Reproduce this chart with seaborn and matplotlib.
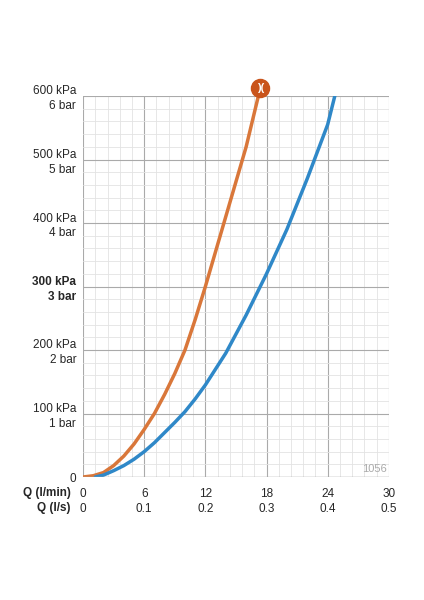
import numpy as np
import matplotlib
matplotlib.use("Agg")
import matplotlib.pyplot as plt
import seaborn as sns

# flow (l/min) vs pressure (kPa)
q_orange = [0, 1, 2, 3, 4, 5, 6, 7, 8, 9, 10, 11, 12, 13, 14, 15, 16, 17.2]
p_orange = [0, 2, 7, 18, 33, 52, 75, 100, 130, 163, 200, 248, 300, 355, 410, 465, 520, 600]
q_blue = [1.2, 2, 3, 4, 5, 6, 7, 8, 9, 10, 11, 12, 13, 14, 16, 18, 20, 22, 24, 24.7]
p_blue = [0, 3, 10, 18, 28, 40, 54, 70, 86, 103, 123, 145, 170, 195, 255, 320, 390, 470, 555, 600]

y_ticks = [0, 100, 200, 300, 400, 500, 600]
y_labels = ["0", "100 kPa\n1 bar", "200 kPa\n2 bar", "300 kPa\n3 bar",
            "400 kPa\n4 bar", "500 kPa\n5 bar", "600 kPa\n6 bar"]
x_ticks = [0, 6, 12, 18, 24, 30]
x_labels = ["0\n0", "6\n0.1", "12\n0.2", "18\n0.3", "24\n0.4", "30\n0.5"]

sns.set_style("white")
plt.rcParams['font.family'] = ['Liberation Sans', 'DejaVu Sans']

fig = plt.figure(figsize=(4.24, 6), dpi=100)
ax = fig.add_axes([0.196, 0.205, 0.721, 0.635])

sns.lineplot(x=q_orange, y=p_orange, ax=ax, color="#d9773a", lw=2.5, sort=False)
sns.lineplot(x=q_blue, y=p_blue, ax=ax, color="#2f88c8", lw=2.5, sort=False)

ax.set_xlim(0, 30)
ax.set_ylim(0, 600)
ax.set_xticks(x_ticks)
ax.set_xticklabels(x_labels, fontsize=8.5, linespacing=1.3)
ax.set_yticks(y_ticks)
ax.set_yticklabels(y_labels, fontsize=8.5, linespacing=1.3)
for lbl in ax.get_yticklabels():
    if lbl.get_text().startswith("300"):
        lbl.set_fontweight("bold")
ax.set_xticks(np.arange(0, 30.01, 1.2), minor=True)
ax.set_yticks(np.arange(0, 600.1, 20), minor=True)
ax.grid(which="major", color="#aaaaaa", lw=0.8)
ax.grid(which="minor", color="#e3e3e3", lw=0.6)
ax.set_axisbelow(True)
for s in ax.spines.values():
    s.set_visible(False)
ax.axhline(0, color="#aaaaaa", lw=1)
ax.tick_params(axis="y", length=0, pad=5)
ax.tick_params(axis="x", length=0, pad=8)

ax.text(-1.2, -16, "Q (l/min)\nQ (l/s)", ha="right", va="top", fontsize=8.5,
        fontweight="bold", linespacing=1.3)
ax.text(29.8, 4, "1056", ha="right", va="bottom", fontsize=8, color="#aaaaaa")
ax.plot([17.4], [613], "o", ms=13, color="#c9541b", clip_on=False)
ax.text(17.4, 613, ")(", ha="center", va="center", color="white",
        fontsize=8, fontweight="bold", clip_on=False)

fig.savefig("out.png", dpi=100)
